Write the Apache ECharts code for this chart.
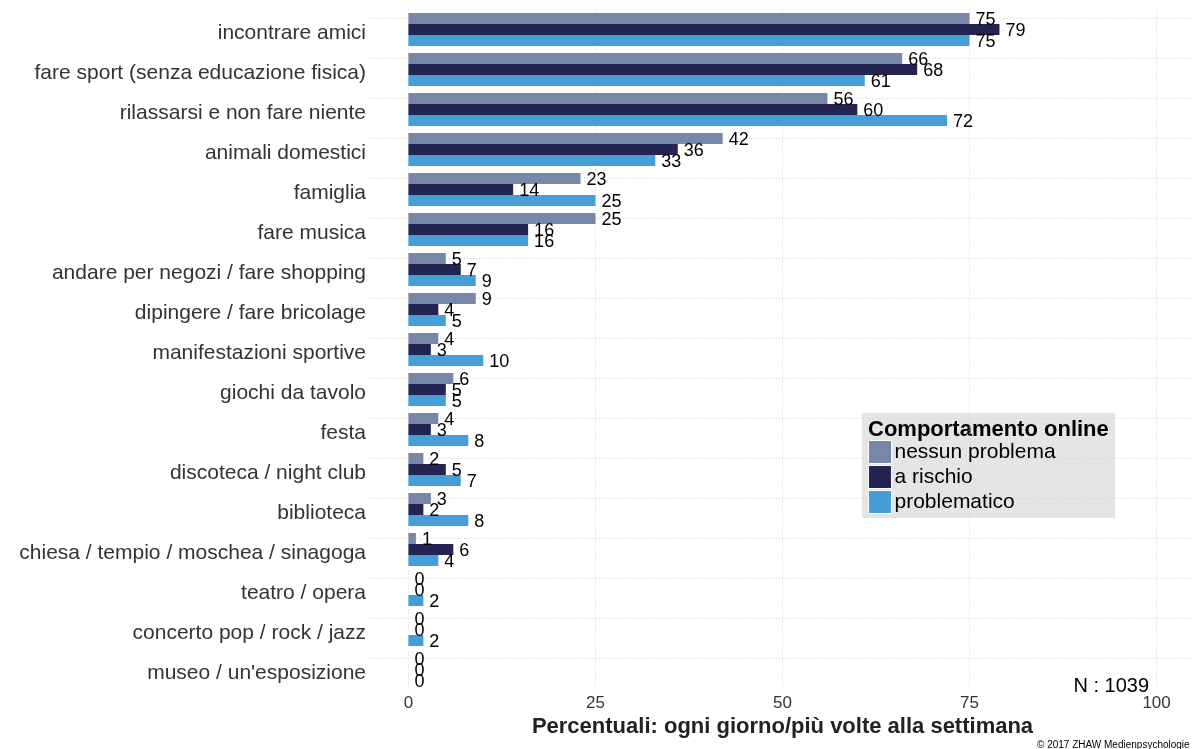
<!DOCTYPE html>
<html>
<head>
<meta charset="utf-8">
<script src="https://cdn.jsdelivr.net/npm/echarts@6/dist/echarts.min.js"></script>
<style>
  html, body { margin: 0; padding: 0; background: #fff; }
  #chart { width: 1192px; height: 749px; }
</style>
</head>
<body>
<div id="chart"></div>
<script>
// Leisure activities by online behaviour (share: daily / several times a week)
const categories = [
  'incontrare amici',
  'fare sport (senza educazione fisica)',
  'rilassarsi e non fare niente',
  'animali domestici',
  'famiglia',
  'fare musica',
  'andare per negozi / fare shopping',
  'dipingere / fare bricolage',
  'manifestazioni sportive',
  'giochi da tavolo',
  'festa',
  'discoteca / night club',
  'biblioteca',
  'chiesa / tempio / moschea / sinagoga',
  'teatro / opera',
  'concerto pop / rock / jazz',
  "museo / un'esposizione"
];
const seriesNames = ['nessun problema', 'a rischio', 'problematico'];
const nessunProblema = [75, 66, 56, 42, 23, 25, 5, 9, 4, 6, 4, 2, 3, 1, 0, 0, 0];
const aRischio      = [79, 68, 60, 36, 14, 16, 7, 4, 3, 5, 3, 5, 2, 6, 0, 0, 0];
const problematico  = [75, 61, 72, 33, 25, 16, 9, 5, 10, 5, 8, 7, 8, 4, 2, 2, 0];
const xTicks = [0, 25, 50, 75, 100];
const sampleSize = 1039;

const colors = ['#7886a8', '#232452', '#459fd6'];
const FONT = '"Liberation Sans", Arial, Helvetica, sans-serif';

const chart = echarts.init(document.getElementById('chart'), null, { renderer: 'canvas' });

const gridLineStyle = { color: '#d4d4d4', type: [1, 2], width: 1 };

function barSeries(name, data, idx) {
  const s = {
    name: name,
    type: 'bar',
    data: data,
    barWidth: 11,
    barGap: '0%',
    z: 2,
    itemStyle: { color: colors[idx] },
    label: {
      show: true,
      position: 'right',
      distance: 6,
      color: '#000',
      fontSize: 18,
      fontFamily: FONT,
      offset: [0, 2]
    }
  };
  if (idx === 0) {
    // dotted panel grid: vertical at the tick values, horizontal through each category
    s.markLine = {
      silent: true,
      z: 1,
      symbol: 'none',
      label: { show: false },
      lineStyle: gridLineStyle,
      data: xTicks.map(v => ({ xAxis: v }))
        .concat(categories.map(c => ({ yAxis: c })))
    };
  }
  return s;
}

const option = {
  animation: false,
  backgroundColor: '#fff',
  textStyle: { fontFamily: FONT },
  grid: {
    left: 371, top: 9.5, width: 823, bottom: 59.5,
    containLabel: false,
    outerBoundsMode: 'none'
  },
  xAxis: {
    type: 'value',
    min: -5,
    max: 105,
    interval: 5,
    axisLine: { show: false },
    axisTick: { show: false },
    splitLine: { show: false },
    axisLabel: {
      color: '#333',
      fontSize: 17,
      fontFamily: FONT,
      margin: 5,
      formatter: v => (xTicks.indexOf(v) >= 0 ? String(v) : '')
    },
    name: 'Percentuali: ogni giorno/più volte alla settimana',
    nameLocation: 'middle',
    nameGap: 23,
    nameTextStyle: { color: '#222', fontSize: 22, fontWeight: 'bold', fontFamily: FONT }
  },
  yAxis: {
    type: 'category',
    data: categories,
    inverse: true,
    axisLine: { show: false },
    axisTick: { show: false },
    splitLine: { show: false },
    axisLabel: {
      margin: 5,
      formatter: v => '{c|' + v + '}',
      rich: {
        c: { color: '#333', fontSize: 21, fontFamily: FONT, padding: [8, 0, 0, 0] }
      }
    }
  },
  legend: {
    orient: 'vertical',
    left: 868,
    top: 440,
    padding: 0,
    itemWidth: 23,
    itemHeight: 23,
    itemGap: 1,
    icon: 'rect',
    data: seriesNames,
    itemStyle: { borderColor: '#fff', borderWidth: 1 },
    textStyle: { color: '#000', fontSize: 21, fontFamily: FONT, padding: [2, 0, 0, -2] }
  },
  graphic: [
    {
      type: 'rect',
      z: -1,
      shape: { x: 862, y: 413, width: 253, height: 105 },
      style: { fill: '#e5e5e5' }
    },
    {
      type: 'text',
      x: 868,
      y: 430,
      style: {
        text: 'Comportamento online',
        fill: '#000',
        font: 'bold 22px ' + FONT,
        verticalAlign: 'middle'
      }
    },
    {
      type: 'text',
      x: 1149,
      y: 686,
      style: {
        text: 'N : ' + sampleSize,
        fill: '#000',
        font: '20px ' + FONT,
        align: 'right',
        verticalAlign: 'middle'
      }
    },
    {
      type: 'text',
      x: 1037,
      y: 745,
      style: {
        text: '© 2017 ZHAW Medienpsychologie',
        fill: '#000',
        font: '10px ' + FONT,
        verticalAlign: 'middle'
      }
    }
  ],
  series: [
    barSeries(seriesNames[0], nessunProblema, 0),
    barSeries(seriesNames[1], aRischio, 1),
    barSeries(seriesNames[2], problematico, 2)
  ]
};

chart.setOption(option);
</script>
</body>
</html>
